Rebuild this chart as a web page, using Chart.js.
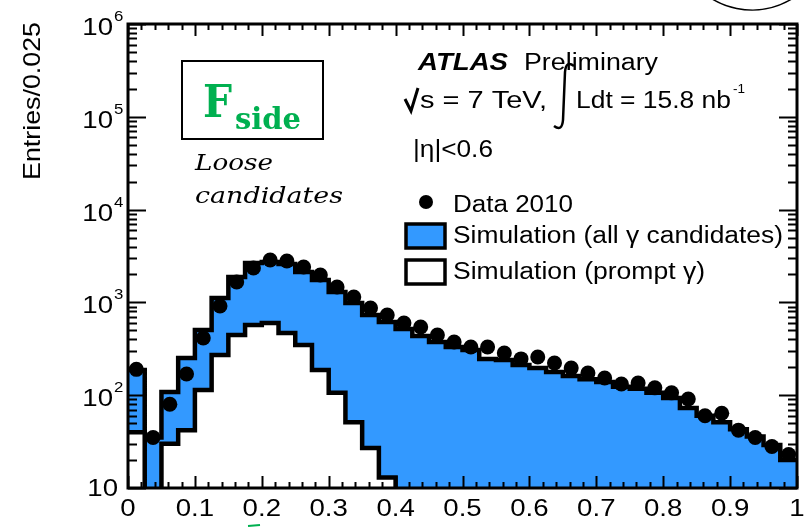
<!DOCTYPE html>
<html>
<head>
<meta charset="utf-8">
<script src="https://cdn.jsdelivr.net/npm/chart.js@4.4.1/dist/chart.umd.min.js"></script>
<style>
  html, body { margin: 0; padding: 0; background: #fff; }
  canvas { display: block; }
</style>
</head>
<body>
<canvas id="fsideChart" width="808" height="527"></canvas>
<script>
// F_side histogram, 40 bins of 0.025 between 0 and 1
const binEdges = [0, 0.025, 0.05, 0.075, 0.1, 0.125, 0.15, 0.175, 0.2, 0.225,
  0.25, 0.275, 0.3, 0.325, 0.35, 0.375, 0.4, 0.425, 0.45, 0.475,
  0.5, 0.525, 0.55, 0.575, 0.6, 0.625, 0.65, 0.675, 0.7, 0.725,
  0.75, 0.775, 0.8, 0.825, 0.85, 0.875, 0.9, 0.925, 0.95, 0.975, 1];

// Simulation (all gamma candidates)
const simAll = [187, 35, 108, 252, 504, 1115, 1877, 2658, 2725, 2593,
  2126, 1744, 1295, 985, 731, 615, 517, 434, 374, 331,
  307, 246, 240, 212, 196, 178, 161, 149, 139, 123,
  117, 106, 93, 73, 60, 51, 43, 36, 29, 20];

// Simulation (prompt gamma), 0 = empty bin
const simPrompt = [40, 0, 30, 42, 114, 271, 445, 571, 600, 468,
  347, 187, 106, 51, 27, 13, 0, 0, 0, 0,
  0, 0, 0, 0, 0, 0, 0, 0, 0, 0,
  0, 0, 0, 0, 0, 0, 0, 0, 0, 0];

// Data 2010
const data2010 = [190, 35, 80, 169, 413, 915, 1659, 2348, 2863, 2793,
  2407, 1974, 1465, 1143, 870, 731, 600, 543, 445, 374,
  331, 331, 285, 246, 258, 222, 196, 173, 153, 132,
  135, 120, 106, 91, 60, 64, 42, 35, 28, 23];

const xTickValues = [0, 0.1, 0.2, 0.3, 0.4, 0.5, 0.6, 0.7, 0.8, 0.9, 1];
const xTickLabels = ['0', '0.1', '0.2', '0.3', '0.4', '0.5', '0.6', '0.7', '0.8', '0.9', '1'];
const yTickValues = [10, 100, 1000, 10000, 100000, 1000000];
const yTickExps = ['', '2', '3', '4', '5', '6'];

const BLUE = '#3399ff';
const GREEN = '#00b050';
const FLOOR = 1; // empty bins drop below the axis (log scale)

// step histogram: one point per left edge + closing point at x = 1
function histPoints(vals) {
  const pts = vals.map((v, i) => ({ x: binEdges[i], y: v > 0 ? v : FLOOR }));
  const last = vals[vals.length - 1];
  pts.push({ x: binEdges[binEdges.length - 1], y: last > 0 ? last : FLOOR });
  return pts;
}

const dataPoints = data2010.map((v, i) => ({ x: (binEdges[i] + binEdges[i + 1]) / 2, y: v }));

function fitText(ctx, str, left, base, width, font, color) {
  ctx.save();
  ctx.font = font;
  ctx.fillStyle = color || '#000';
  ctx.textAlign = 'left';
  ctx.textBaseline = 'alphabetic';
  const w = ctx.measureText(str).width;
  ctx.translate(left, base);
  ctx.scale(width / w, 1);
  ctx.fillText(str, 0, 0);
  ctx.restore();
}

function wideText(ctx, str, x, base, sx, align, font) {
  ctx.save();
  ctx.font = font;
  ctx.fillStyle = '#000';
  ctx.textAlign = align;
  ctx.textBaseline = 'alphabetic';
  ctx.translate(x, base);
  ctx.scale(sx, 1);
  ctx.fillText(str, 0, 0);
  ctx.restore();
}

const SANS = '"Liberation Sans", Arial, sans-serif';

// ROOT style frame, ticks, labels and all the text boxes
const rootDecor = {
  id: 'rootDecor',
  afterDatasetsDraw(chart) {
    const { ctx, chartArea: a, scales: { x, y } } = chart;
    ctx.save();
    ctx.strokeStyle = '#000';

    // ticks
    ctx.lineWidth = 2;
    ctx.beginPath();
    for (let k = 0; k <= 50; k++) {
      const px = Math.round(x.getPixelForValue(k / 50)) + 0.5;
      const len = k % 5 === 0 ? 12 : 6;
      ctx.moveTo(px, a.bottom); ctx.lineTo(px, a.bottom - len);
      ctx.moveTo(px, a.top); ctx.lineTo(px, a.top + len);
    }
    for (let d = 0; d < yTickValues.length; d++) {
      const dec = yTickValues[d];
      for (let m = 1; m <= 9; m++) {
        if (d === yTickValues.length - 1 && m > 1) break;
        const py = Math.round(y.getPixelForValue(dec * m)) + 0.5;
        const len = m === 1 ? 18 : 9;
        ctx.moveTo(a.left, py); ctx.lineTo(a.left + len, py);
        ctx.moveTo(a.right, py); ctx.lineTo(a.right - len, py);
      }
    }
    ctx.stroke();

    // frame
    ctx.lineWidth = 3;
    ctx.strokeRect(a.left, a.top, a.right - a.left, a.bottom - a.top);

    // x tick labels
    xTickValues.forEach((v, i) => {
      wideText(ctx, xTickLabels[i], x.getPixelForValue(v), 516, 1.2, 'center', '23px ' + SANS);
    });
    // y tick labels 10^n
    yTickValues.forEach((v, i) => {
      const py = y.getPixelForValue(v);
      if (yTickExps[i] === '') {
        wideText(ctx, '10', 118, py + 8, 1.2, 'right', '23px ' + SANS);
      } else {
        wideText(ctx, '10', 113, py + 11, 1.2, 'right', '23px ' + SANS);
        wideText(ctx, yTickExps[i], 114, py - 3, 1.2, 'left', '14px ' + SANS);
      }
    });

    // y axis title
    ctx.save();
    ctx.font = '24px ' + SANS;
    ctx.fillStyle = '#000';
    ctx.textAlign = 'center';
    ctx.textBaseline = 'alphabetic';
    const tw = ctx.measureText('Entries/0.025').width;
    ctx.translate(40, 101);
    ctx.rotate(-Math.PI / 2);
    ctx.scale(158 / tw, 1);
    ctx.fillText('Entries/0.025', 0, 0);
    ctx.restore();

    // F_side box
    ctx.lineWidth = 2;
    ctx.strokeRect(182, 61, 141, 78);
    fitText(ctx, 'F', 203, 117, 29, 'bold 44px "DejaVu Serif", serif', GREEN);
    fitText(ctx, 'side', 235, 129, 66, 'bold 30px "DejaVu Serif", serif', GREEN);
    fitText(ctx, 'Loose', 195, 170, 78, 'italic 23px "DejaVu Serif", serif');
    fitText(ctx, 'candidates', 195, 203, 148, 'italic 23px "DejaVu Serif", serif');

    // ATLAS header
    fitText(ctx, 'ATLAS', 418, 70, 90, 'italic bold 23px ' + SANS);
    fitText(ctx, 'Preliminary', 524, 70, 134, '23px ' + SANS);
    // sqrt sign
    ctx.lineWidth = 3;
    ctx.lineJoin = 'miter';
    ctx.beginPath();
    ctx.moveTo(405, 99); ctx.lineTo(411, 111); ctx.lineTo(418, 88);
    ctx.stroke();
    fitText(ctx, 's = 7 TeV,', 420, 108, 127, '23px ' + SANS);
    // integral sign
    ctx.lineWidth = 2.5;
    ctx.beginPath();
    ctx.moveTo(574, 66);
    ctx.quadraticCurveTo(566, 60, 565, 72);
    ctx.lineTo(563, 120);
    ctx.quadraticCurveTo(562, 132, 554, 126);
    ctx.stroke();
    fitText(ctx, 'Ldt = 15.8 nb', 576, 108, 155, '23px ' + SANS);
    fitText(ctx, '-1', 733, 93, 12, '13px ' + SANS);
    fitText(ctx, '|\u03b7|<0.6', 413, 157, 80, '23px ' + SANS);

    // legend
    ctx.fillStyle = '#000';
    ctx.beginPath();
    ctx.arc(426, 202, 7, 0, Math.PI * 2);
    ctx.fill();
    fitText(ctx, 'Data 2010', 453, 212, 120, '23px ' + SANS);
    ctx.lineWidth = 3.5;
    ctx.fillStyle = BLUE;
    ctx.fillRect(406, 224, 39, 24);
    ctx.strokeRect(406, 224, 39, 24);
    fitText(ctx, 'Simulation (all \u03b3 candidates)', 453, 243, 330, '23px ' + SANS);
    ctx.fillStyle = '#fff';
    ctx.fillRect(406, 260, 39, 24);
    ctx.strokeRect(406, 260, 39, 24);
    fitText(ctx, 'Simulation (prompt \u03b3)', 453, 279, 252, '23px ' + SANS);

    // circle cut by the top edge of the picture
    ctx.lineWidth = 1.5;
    ctx.beginPath();
    ctx.arc(752, -67, 77, 0.2, Math.PI - 0.2);
    ctx.stroke();
    // green stroke at the bottom edge
    ctx.strokeStyle = GREEN;
    ctx.lineWidth = 2;
    ctx.beginPath();
    ctx.moveTo(248, 526); ctx.lineTo(260, 525);
    ctx.stroke();

    ctx.restore();
  }
};

const ctx = document.getElementById('fsideChart').getContext('2d');
const chart = new Chart(ctx, {
  type: 'line',
  data: {
    datasets: [
      {
        label: 'Data 2010',
        data: dataPoints,
        showLine: false,
        pointRadius: 7.5,
        pointBackgroundColor: '#000',
        pointBorderColor: '#000',
        pointBorderWidth: 0,
        clip: false
      },
      {
        label: 'Simulation (prompt γ)',
        data: histPoints(simPrompt),
        stepped: true,
        fill: 'start',
        backgroundColor: '#fff',
        borderColor: '#000',
        borderWidth: 4.5,
        borderJoinStyle: 'miter',
        pointRadius: 0,
        clip: 0
      },
      {
        label: 'Simulation (all γ candidates)',
        data: histPoints(simAll),
        stepped: true,
        fill: 'start',
        backgroundColor: BLUE,
        borderColor: '#000',
        borderWidth: 4.5,
        borderJoinStyle: 'miter',
        pointRadius: 0,
        clip: 0
      }
    ]
  },
  options: {
    responsive: false,
    animation: false,
    layout: { padding: { left: 128, right: 11, top: 24, bottom: 39 } },
    plugins: { legend: { display: false }, tooltip: { enabled: false } },
    scales: {
      x: { type: 'linear', min: 0, max: 1, display: false },
      y: { type: 'logarithmic', min: 10, max: 1000000, display: false }
    }
  },
  plugins: [rootDecor]
});
</script>
</body>
</html>
